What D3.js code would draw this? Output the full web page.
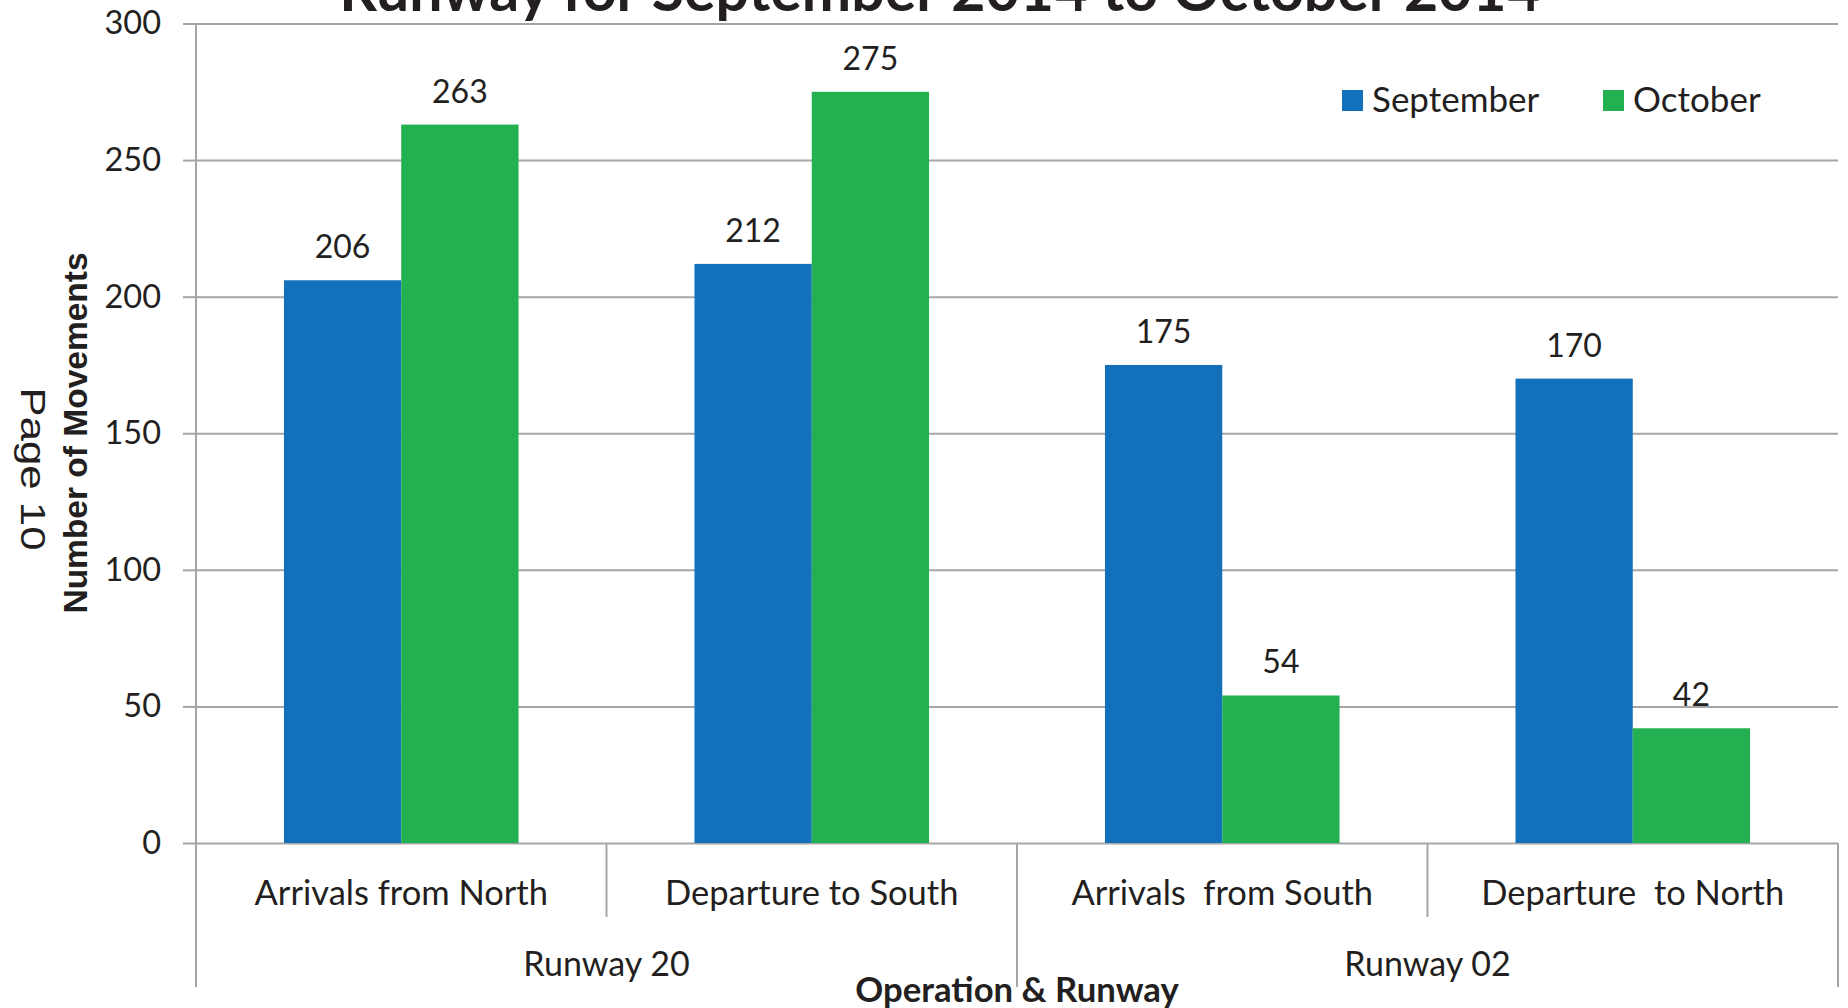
<!DOCTYPE html>
<html>
<head>
<meta charset="utf-8">
<script src="https://cdn.jsdelivr.net/npm/d3@7"></script>
<style>
  html, body { margin: 0; padding: 0; background: #fff; overflow: hidden; }
  svg { display: block; }
  text { font-family: Lato, "Open Sans", sans-serif; fill: #231f20; white-space: pre; }
</style>
</head>
<body>
<div id="chart"></div>
<script>
// Chart data
const categories = ['Arrivals from North', 'Departure to South', 'Arrivals  from South', 'Departure  to North'];
const runways = ['Runway 20', 'Runway 02'];
const runwayOf = [0, 0, 1, 1];
const seriesNames = ['September', 'October'];
const september = [206, 212, 175, 170];
const october = [263, 275, 54, 42];
const yTicks = [0, 50, 100, 150, 200, 250, 300];

const colors = { September: '#1370ba', October: '#23b050' };
const gridColor = '#a6a6a6';

const width = 1848;
const height = 1008;
const plot = { left: 196, right: 1838, top: 23.5, bottom: 843 };
const axisFoot = 987;   // bottom of long separators
const shortFoot = 917;  // bottom of category separators

const svg = d3.select('#chart')
    .append('svg')
    .attr('width', width)
    .attr('height', height);

// Scales
const y = d3.scaleLinear()
    .domain([0, 300])
    .range([plot.bottom, plot.top]);

const x0 = d3.scaleBand()
    .domain(categories)
    .range([plot.left, plot.right])
    .padding(0);

const x1 = d3.scaleBand()
    .domain(seriesNames)
    .range([0, x0.bandwidth()])
    .paddingInner(0)
    .paddingOuter(0.75);

// Grid lines
svg.append('g')
    .attr('transform', `translate(${plot.left},0)`)
    .call(d3.axisRight(y)
        .tickValues(yTicks)
        .tickSize(plot.right - plot.left)
        .tickFormat(''))
    .call(g => g.select('.domain').remove())
    .call(g => g.selectAll('.tick line')
        .attr('stroke', gridColor)
        .attr('stroke-width', 2));

// Y axis with outside ticks
svg.append('g')
    .attr('transform', `translate(${plot.left},0)`)
    .call(d3.axisLeft(y)
        .tickValues(yTicks)
        .tickSizeInner(13)
        .tickSizeOuter(0)
        .tickPadding(22))
    .call(g => g.select('.domain').remove())
    .call(g => g.selectAll('.tick line')
        .attr('stroke', gridColor)
        .attr('stroke-width', 2))
    .call(g => g.selectAll('.tick text')
        .attr('fill', '#231f20')
        .style('font-family', 'Lato, sans-serif')
        .style('font-size', '32.5px'));

// Bars
const rows = categories.map((c, i) => ({
    category: c,
    values: [
        { series: 'September', value: september[i] },
        { series: 'October', value: october[i] }
    ]
}));

const catG = svg.append('g')
    .selectAll('g')
    .data(rows)
    .join('g')
    .attr('transform', d => `translate(${x0(d.category)},0)`);

catG.selectAll('rect')
    .data(d => d.values)
    .join('rect')
    .attr('x', d => x1(d.series))
    .attr('y', d => y(d.value))
    .attr('width', x1.bandwidth())
    .attr('height', d => y(0) - y(d.value))
    .attr('fill', d => colors[d.series]);

catG.selectAll('text.value')
    .data(d => d.values)
    .join('text')
    .attr('class', 'value')
    .attr('x', d => x1(d.series) + x1.bandwidth() / 2)
    .attr('y', d => y(d.value) - 22)
    .attr('text-anchor', 'middle')
    .style('font-size', '32px')
    .text(d => d.value);

// Vertical axis line (runs down through the category area)
svg.append('line')
    .attr('x1', plot.left).attr('x2', plot.left)
    .attr('y1', plot.top).attr('y2', axisFoot)
    .attr('stroke', gridColor)
    .attr('stroke-width', 2);

// Category separators
const seps = [];
categories.forEach((c, i) => {
    if (i === 0) return;
    const long = runwayOf[i] !== runwayOf[i - 1];
    seps.push({ x: x0(c), foot: long ? axisFoot : shortFoot });
});
seps.push({ x: plot.right, foot: axisFoot });

svg.append('g')
    .selectAll('line')
    .data(seps)
    .join('line')
    .attr('x1', d => d.x).attr('x2', d => d.x)
    .attr('y1', plot.bottom).attr('y2', d => d.foot)
    .attr('stroke', gridColor)
    .attr('stroke-width', 2);

// Category labels
svg.append('g')
    .selectAll('text')
    .data(categories)
    .join('text')
    .attr('x', d => x0(d) + x0.bandwidth() / 2)
    .attr('y', 905)
    .attr('text-anchor', 'middle')
    .style('font-size', '34.5px')
    .text(d => d);

// Runway group labels
svg.append('g')
    .selectAll('text')
    .data(runways)
    .join('text')
    .attr('x', (r, ri) => {
        const members = categories.filter((c, i) => runwayOf[i] === ri);
        return d3.mean(members, c => x0(c) + x0.bandwidth() / 2);
    })
    .attr('y', 976)
    .attr('text-anchor', 'middle')
    .style('font-size', '34px')
    .text(d => d);

// Legend
const legend = svg.append('g')
    .attr('transform', 'translate(1342,90)')
    .selectAll('g')
    .data(seriesNames)
    .join('g')
    .attr('transform', (d, i) => `translate(${i * 261},0)`);

legend.append('rect')
    .attr('width', 21)
    .attr('height', 21)
    .attr('fill', d => colors[d]);

legend.append('text')
    .attr('x', 30)
    .attr('y', 22)
    .style('font-size', '35px')
    .text(d => d);

// Titles
svg.append('text')
    .attr('x', 940)
    .attr('y', 11)
    .attr('text-anchor', 'middle')
    .style('font-size', '59px')
    .style('font-weight', 'bold')
    .text('Runway for September 2014 to October 2014');

svg.append('text')
    .attr('x', 1017)
    .attr('y', 1002)
    .attr('text-anchor', 'middle')
    .style('font-size', '34.7px')
    .style('font-weight', 'bold')
    .text('Operation & Runway');

svg.append('text')
    .attr('transform', 'translate(87,433) rotate(-90)')
    .attr('text-anchor', 'middle')
    .style('font-family', '"Liberation Sans", Arial, sans-serif')
    .style('font-size', '33.5px')
    .style('font-weight', 'bold')
    .text('Number of Movements');

// page number printed beside the chart, stretched along its length
svg.append('text')
    .attr('transform', 'translate(21,469) rotate(90) scale(1.25,1)')
    .attr('text-anchor', 'middle')
    .style('font-family', '"Liberation Sans", Arial, sans-serif')
    .style('font-size', '35px')
    .text('Page 10');
</script>
</body>
</html>
